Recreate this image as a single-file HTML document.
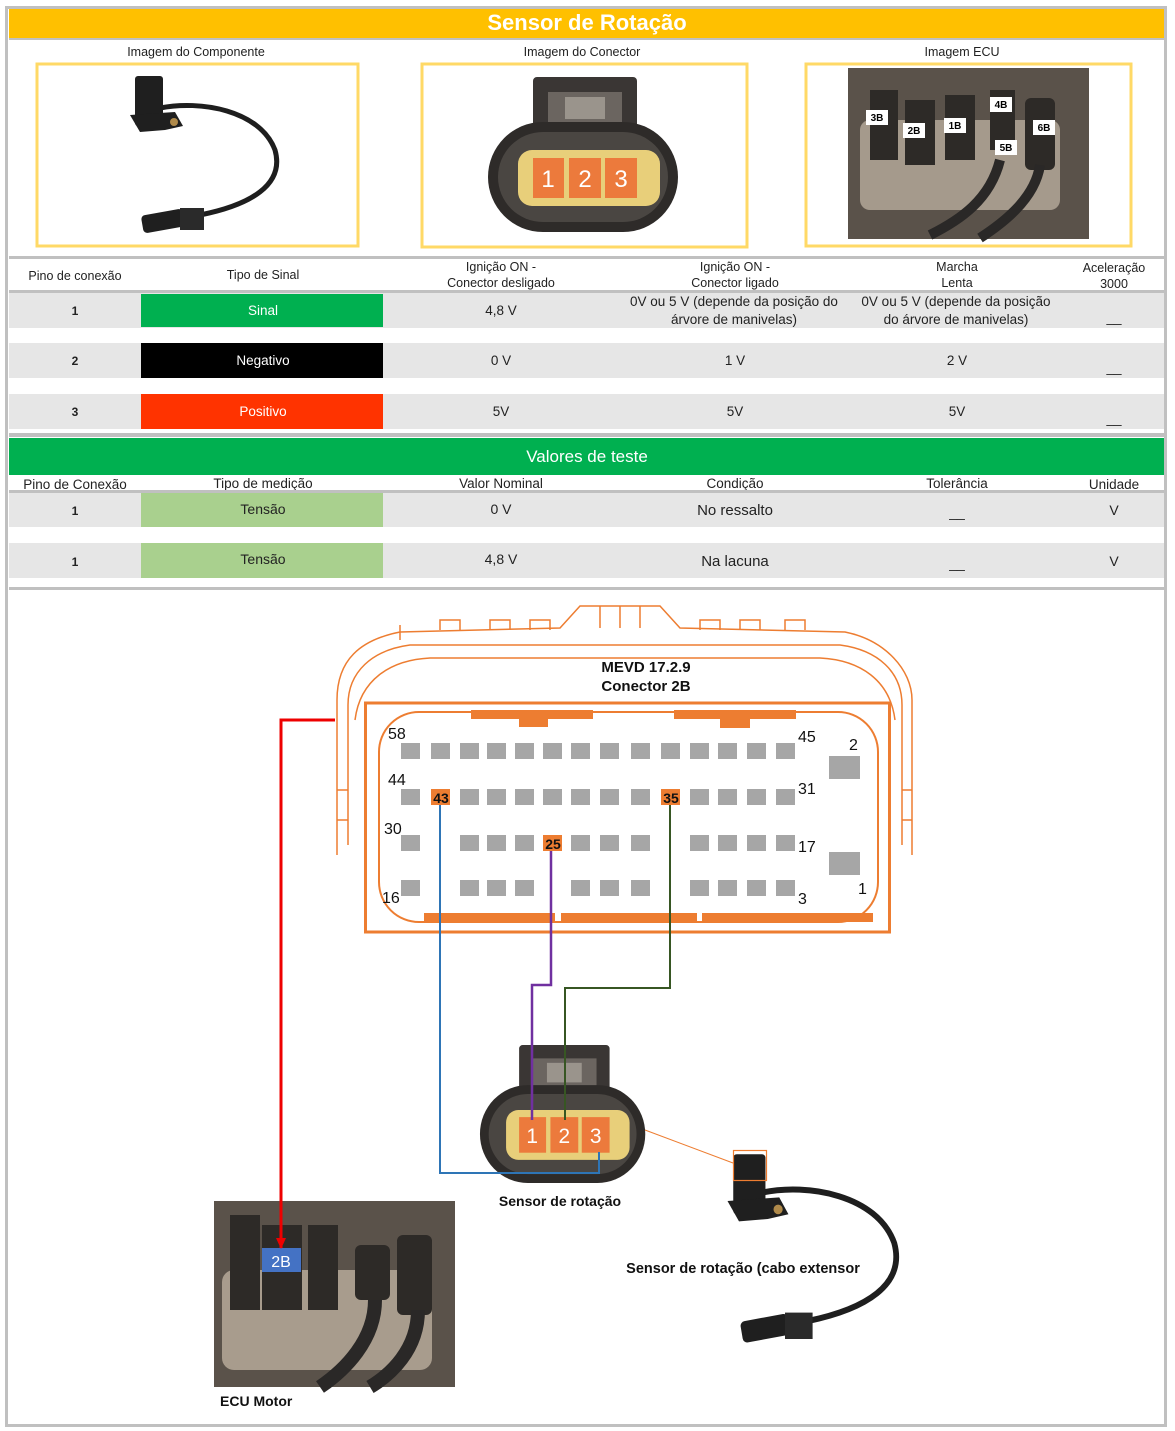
<!DOCTYPE html>
<html><head><meta charset="utf-8"><style>
html,body{margin:0;padding:0;background:#fff}
svg{display:block}
text{font-family:"Liberation Sans",sans-serif}
</style></head><body>
<svg width="1175" height="1431" viewBox="0 0 1175 1431" xmlns="http://www.w3.org/2000/svg">
<defs>
<g id="conn">
  <rect x="533" y="77" width="104" height="70" rx="4" fill="#3a3634"/>
  <rect x="548" y="92" width="74" height="40" fill="#6b6560"/>
  <rect x="565" y="97" width="40" height="22" fill="#9a948c"/>
  <rect x="488" y="122" width="190" height="110" rx="55" fill="#2e2b29"/>
  <rect x="498" y="132" width="170" height="90" rx="45" fill="#4a4642"/>
  <rect x="518" y="150" width="142" height="56" rx="14" fill="#e8cf7a"/>
  <rect x="533" y="158" width="31" height="40" fill="#ec7a3c"/>
  <rect x="569" y="158" width="32" height="40" fill="#ec7a3c"/>
  <rect x="605" y="158" width="32" height="40" fill="#ec7a3c"/>
  <text x="548" y="187" font-size="24" fill="#fff" text-anchor="middle">1</text>
  <text x="585" y="187" font-size="24" fill="#fff" text-anchor="middle">2</text>
  <text x="621" y="187" font-size="24" fill="#fff" text-anchor="middle">3</text>
</g>
<g id="sens">
  <path d="M160 108 C200 100 260 110 275 150 C285 185 250 205 200 215" fill="none" stroke="#1e1e1e" stroke-width="5"/>
  <rect x="135" y="76" width="28" height="50" rx="3" fill="#1f1f1f"/>
  <path d="M130 115 L175 112 L183 126 L165 130 L140 132 Z" fill="#1f1f1f"/>
  <circle cx="174" cy="122" r="4" fill="#b08a4a"/>
  <rect x="142" y="212" width="42" height="18" rx="4" fill="#1f1f1f" transform="rotate(-10 163 221)"/>
  <rect x="180" y="208" width="24" height="22" fill="#2a2a2a"/>
</g>
</defs>

<!-- outer frame -->
<rect x="6.5" y="7.5" width="1159" height="1418" fill="#fff" stroke="#c0c0c0" stroke-width="3"/>

<!-- title -->
<rect x="9" y="9" width="1155" height="29" fill="#ffc000"/>
<text x="587" y="30" font-size="22" font-weight="bold" fill="#fff" text-anchor="middle">Sensor de Rotação</text>
<rect x="9" y="38" width="1155" height="2" fill="#c0c0c0"/>

<!-- image row -->
<text x="196" y="56" font-size="12.5" fill="#222" text-anchor="middle">Imagem do Componente</text>
<text x="582" y="56" font-size="12.5" fill="#222" text-anchor="middle">Imagem do Conector</text>
<text x="962" y="56" font-size="12.5" fill="#222" text-anchor="middle">Imagem ECU</text>
<rect x="37" y="64" width="321" height="182" fill="none" stroke="#ffd966" stroke-width="3"/>
<rect x="422" y="64" width="325" height="183" fill="none" stroke="#ffd966" stroke-width="3"/>
<rect x="806" y="64" width="325" height="182" fill="none" stroke="#ffd966" stroke-width="3"/>
<use href="#sens"/>
<use href="#conn"/>
<!-- ECU photo top -->
<rect x="848" y="68" width="241" height="171" fill="#5a524a"/>
<rect x="860" y="120" width="200" height="90" rx="10" fill="#a59a8c"/>
<rect x="870" y="90" width="28" height="70" fill="#2d2a27"/>
<rect x="905" y="100" width="30" height="65" fill="#2d2a27"/>
<rect x="945" y="95" width="30" height="65" fill="#2d2a27"/>
<rect x="990" y="90" width="25" height="60" fill="#2d2a27"/>
<rect x="1025" y="98" width="30" height="72" rx="6" fill="#2d2a27"/>
<path d="M1000 160 C990 200 960 220 930 235" stroke="#2a2827" stroke-width="10" fill="none"/>
<path d="M1040 165 C1035 200 1000 225 980 238" stroke="#2a2827" stroke-width="10" fill="none"/>
<g font-size="10" font-weight="bold" fill="#000" text-anchor="middle">
<rect x="866" y="110" width="22" height="15" fill="#fff"/><text x="877" y="121">3B</text>
<rect x="903" y="123" width="22" height="15" fill="#fff"/><text x="914" y="134">2B</text>
<rect x="944" y="118" width="22" height="15" fill="#fff"/><text x="955" y="129">1B</text>
<rect x="990" y="97" width="22" height="15" fill="#fff"/><text x="1001" y="108">4B</text>
<rect x="1033" y="120" width="22" height="15" fill="#fff"/><text x="1044" y="131">6B</text>
<rect x="995" y="140" width="22" height="15" fill="#fff"/><text x="1006" y="151">5B</text>
</g>

<rect x="9" y="256" width="1155" height="3" fill="#c0c0c0"/>
<!-- header row 1 -->
<g font-size="12.5" fill="#222" text-anchor="middle">
<text x="75" y="280">Pino de conexão</text>
<text x="263" y="279">Tipo de Sinal</text>
<text x="501" y="271">Ignição ON -</text><text x="501" y="287">Conector desligado</text>
<text x="735" y="271">Ignição ON -</text><text x="735" y="287">Conector ligado</text>
<text x="957" y="271">Marcha</text><text x="957" y="287">Lenta</text>
<text x="1114" y="272">Aceleração</text><text x="1114" y="288">3000</text>
</g>
<rect x="9" y="290" width="1155" height="3" fill="#c0c0c0"/>
<!-- rows -->
<rect x="9" y="293" width="1155" height="35" fill="#e6e6e6"/>
<rect x="9" y="343" width="1155" height="35" fill="#e6e6e6"/>
<rect x="9" y="394" width="1155" height="35" fill="#e6e6e6"/>
<rect x="141" y="294" width="242" height="33" fill="#00b050"/>
<rect x="141" y="343" width="242" height="35" fill="#000"/>
<rect x="141" y="394" width="242" height="35" fill="#ff3300"/>
<g font-size="13.5" text-anchor="middle" fill="#222">
<text x="75" y="315" font-weight="bold" font-size="12">1</text>
<text x="75" y="365" font-weight="bold" font-size="12">2</text>
<text x="75" y="416" font-weight="bold" font-size="12">3</text>
<text x="263" y="315" fill="#fff">Sinal</text>
<text x="263" y="365" fill="#fff">Negativo</text>
<text x="263" y="416" fill="#fff">Positivo</text>
<text x="501" y="315">4,8 V</text>
<text x="734" y="306">0V ou 5 V (depende da posição do</text><text x="734" y="324">árvore de manivelas)</text>
<text x="956" y="306">0V ou 5 V (depende da posição</text><text x="956" y="324">do árvore de manivelas)</text>
<text x="1114" y="322">__</text>
<text x="501" y="365">0 V</text><text x="735" y="365">1 V</text><text x="957" y="365">2 V</text><text x="1114" y="372">__</text>
<text x="501" y="416">5V</text><text x="735" y="416">5V</text><text x="957" y="416">5V</text><text x="1114" y="423">__</text>
</g>
<rect x="9" y="433" width="1155" height="4" fill="#c0c0c0"/>
<rect x="9" y="438" width="1155" height="37" fill="#00b050"/>
<text x="587" y="462" font-size="17" fill="#fff" text-anchor="middle">Valores de teste</text>
<g font-size="13.5" fill="#222" text-anchor="middle">
<text x="75" y="489">Pino de Conexão</text>
<text x="263" y="488">Tipo de medição</text>
<text x="501" y="488">Valor Nominal</text>
<text x="735" y="488">Condição</text>
<text x="957" y="488">Tolerância</text>
<text x="1114" y="489">Unidade</text>
</g>
<rect x="9" y="490" width="1155" height="3" fill="#c0c0c0"/>
<rect x="9" y="493" width="1155" height="34" fill="#e6e6e6"/>
<rect x="9" y="543" width="1155" height="35" fill="#e6e6e6"/>
<rect x="141" y="493" width="242" height="34" fill="#a9d08e"/>
<rect x="141" y="543" width="242" height="35" fill="#a9d08e"/>
<g font-size="14" text-anchor="middle" fill="#222">
<text x="75" y="515" font-weight="bold" font-size="12">1</text>
<text x="75" y="566" font-weight="bold" font-size="12">1</text>
<text x="263" y="514">Tensão</text><text x="263" y="564">Tensão</text>
<text x="501" y="514">0 V</text><text x="501" y="564">4,8 V</text>
<text x="735" y="515" font-size="15">No ressalto</text><text x="735" y="566" font-size="15">Na lacuna</text>
<text x="957" y="517">__</text><text x="957" y="568">__</text>
<text x="1114" y="515">V</text><text x="1114" y="566">V</text>
</g>
<rect x="9" y="587" width="1155" height="3" fill="#c0c0c0"/>

<!-- ECU connector drawing -->
<g fill="none" stroke="#ed7d31" stroke-width="1.5">
<path d="M337 855 L337 700 C337 660 360 640 400 632 L560 628 L580 606 L660 606 L680 628 L845 632 C885 640 912 670 912 700 L912 855"/>
<path d="M348 845 L348 705 C348 672 372 650 410 645 L840 645 C878 650 902 672 902 705 L902 845"/>
<path d="M355 720 C360 680 390 660 430 658 L820 658 C860 660 890 680 895 720"/>
<path d="M400 640 L400 625 M440 630 L440 620 L460 620 L460 630 M490 630 L490 620 L510 620 L510 630 M530 630 L530 620 L550 620 L550 630 M700 630 L700 620 L720 620 L720 630 M740 630 L740 620 L760 620 L760 630 M785 630 L785 620 L805 620 L805 630"/>
<path d="M600 606 L600 628 M620 606 L620 628 M640 606 L640 628"/>
<path d="M337 790 L348 790 M337 820 L348 820 M902 790 L912 790 M902 820 L912 820"/>
</g>
<rect x="365.5" y="703" width="524" height="229" fill="#fff" stroke="#ed7d31" stroke-width="3"/>
<rect x="379" y="712" width="499" height="210" rx="40" fill="#fff" stroke="#ed7d31" stroke-width="2"/>
<g fill="#ed7d31">
<rect x="471" y="710" width="122" height="9"/><rect x="519" y="710" width="29" height="17"/>
<rect x="674" y="710" width="122" height="9"/><rect x="720" y="710" width="30" height="18"/>
<rect x="424" y="913" width="131" height="9"/><rect x="561" y="913" width="136" height="9"/><rect x="702" y="913" width="171" height="9"/>
</g>
<text x="646" y="672" font-size="15" font-weight="bold" fill="#111" text-anchor="middle">MEVD 17.2.9</text>
<text x="646" y="691" font-size="15" font-weight="bold" fill="#111" text-anchor="middle">Conector 2B</text>
<g fill="#a6a6a6">
<!-- row 1 -->
<rect x="401" y="743" width="19" height="16"/><rect x="431" y="743" width="19" height="16"/><rect x="460" y="743" width="19" height="16"/><rect x="487" y="743" width="19" height="16"/><rect x="515" y="743" width="19" height="16"/><rect x="543" y="743" width="19" height="16"/><rect x="571" y="743" width="19" height="16"/><rect x="600" y="743" width="19" height="16"/><rect x="631" y="743" width="19" height="16"/><rect x="661" y="743" width="19" height="16"/><rect x="690" y="743" width="19" height="16"/><rect x="718" y="743" width="19" height="16"/><rect x="747" y="743" width="19" height="16"/><rect x="776" y="743" width="19" height="16"/>
<!-- row 2 -->
<rect x="401" y="789" width="19" height="16"/><rect x="460" y="789" width="19" height="16"/><rect x="487" y="789" width="19" height="16"/><rect x="515" y="789" width="19" height="16"/><rect x="543" y="789" width="19" height="16"/><rect x="571" y="789" width="19" height="16"/><rect x="600" y="789" width="19" height="16"/><rect x="631" y="789" width="19" height="16"/><rect x="690" y="789" width="19" height="16"/><rect x="718" y="789" width="19" height="16"/><rect x="747" y="789" width="19" height="16"/><rect x="776" y="789" width="19" height="16"/>
<!-- row 3 -->
<rect x="401" y="835" width="19" height="16"/><rect x="460" y="835" width="19" height="16"/><rect x="487" y="835" width="19" height="16"/><rect x="515" y="835" width="19" height="16"/><rect x="571" y="835" width="19" height="16"/><rect x="600" y="835" width="19" height="16"/><rect x="631" y="835" width="19" height="16"/><rect x="690" y="835" width="19" height="16"/><rect x="718" y="835" width="19" height="16"/><rect x="747" y="835" width="19" height="16"/><rect x="776" y="835" width="19" height="16"/>
<!-- row 4 -->
<rect x="401" y="880" width="19" height="16"/><rect x="460" y="880" width="19" height="16"/><rect x="487" y="880" width="19" height="16"/><rect x="515" y="880" width="19" height="16"/><rect x="571" y="880" width="19" height="16"/><rect x="600" y="880" width="19" height="16"/><rect x="631" y="880" width="19" height="16"/><rect x="690" y="880" width="19" height="16"/><rect x="718" y="880" width="19" height="16"/><rect x="747" y="880" width="19" height="16"/><rect x="776" y="880" width="19" height="16"/>
<rect x="829" y="756" width="31" height="23"/><rect x="829" y="852" width="31" height="23"/>
</g>
<g fill="#ed7d31"><rect x="431" y="789" width="19" height="16"/><rect x="661" y="789" width="19" height="16"/><rect x="543" y="835" width="19" height="16"/></g>
<g font-size="14" font-weight="bold" fill="#111" text-anchor="middle">
<text x="441" y="803">43</text><text x="671" y="803">35</text><text x="553" y="849">25</text>
</g>
<g font-size="16" fill="#111">
<text x="388" y="739">58</text><text x="798" y="742">45</text><text x="849" y="750">2</text>
<text x="388" y="785">44</text><text x="798" y="794">31</text>
<text x="384" y="834">30</text><text x="798" y="852">17</text>
<text x="382" y="903">16</text><text x="798" y="904">3</text><text x="858" y="894">1</text>
</g>

<!-- sensor connector bottom -->
<use href="#conn" transform="translate(55.4 976.5) scale(0.87 0.89)"/>
<text x="560" y="1206" font-size="14" font-weight="bold" fill="#111" text-anchor="middle">Sensor de rotação</text>

<!-- wires -->
<path d="M335 720 L281 720 L281 1240" fill="none" stroke="#e00" stroke-width="3"/>
<path d="M276 1238 L286 1238 L281 1249 Z" fill="#e00"/>
<path d="M440 805 L440 1173 L599 1173 L599 1152" fill="none" stroke="#2e75b6" stroke-width="2"/>
<path d="M551 851 L551 985 L532 985 L532 1120" fill="none" stroke="#7030a0" stroke-width="2.5"/>
<path d="M670 805 L670 988 L565 988 L565 1120" fill="none" stroke="#375623" stroke-width="2"/>

<!-- ECU photo bottom -->
<rect x="214" y="1201" width="241" height="186" fill="#5a524a"/>
<rect x="222" y="1270" width="210" height="100" rx="12" fill="#a89c8d"/>
<rect x="230" y="1215" width="30" height="95" fill="#2d2a27"/>
<rect x="262" y="1225" width="40" height="85" fill="#2d2a27"/>
<rect x="308" y="1225" width="30" height="85" fill="#2d2a27"/>
<rect x="355" y="1245" width="35" height="55" rx="6" fill="#2d2a27"/>
<rect x="397" y="1235" width="35" height="80" rx="6" fill="#2d2a27"/>
<path d="M375 1300 C375 1340 345 1370 320 1387" stroke="#2a2827" stroke-width="14" fill="none"/>
<path d="M418 1310 C418 1350 390 1375 370 1387" stroke="#2a2827" stroke-width="14" fill="none"/>
<rect x="262" y="1248" width="39" height="24" fill="#4472c4"/>
<text x="281" y="1267" font-size="16" fill="#fff" text-anchor="middle">2B</text>
<path d="M281 1201 L281 1248" stroke="#e00" stroke-width="3"/>
<path d="M276 1238 L286 1238 L281 1249 Z" fill="#e00"/>
<text x="220" y="1406" font-size="14" font-weight="bold" fill="#111">ECU Motor</text>

<!-- sensor with cable bottom -->
<use href="#sens" transform="translate(578 1063) scale(1.15 1.2)"/>
<rect x="733.5" y="1150.5" width="33" height="30" fill="none" stroke="#ed7d31" stroke-width="1.2"/>
<line x1="645" y1="1130" x2="733" y2="1163" stroke="#ed7d31" stroke-width="1"/>
<text x="743" y="1273" font-size="14.5" font-weight="bold" fill="#111" text-anchor="middle">Sensor de rotação (cabo extensor</text>
</svg>
</body></html>
